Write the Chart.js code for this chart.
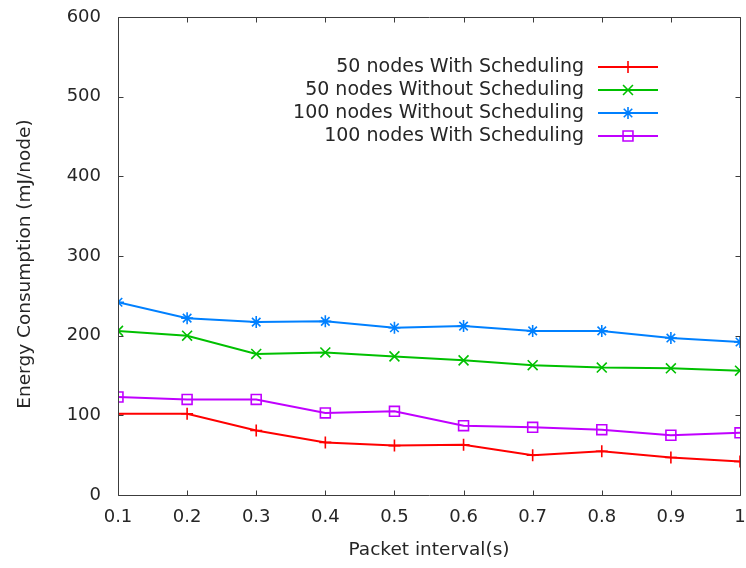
<!DOCTYPE html>
<html>
<head>
<meta charset="utf-8">
<script src="https://cdn.jsdelivr.net/npm/chart.js@4/dist/chart.umd.min.js"></script>
<style>
  html, body { margin: 0; padding: 0; background: #fff; }
  #wrap { width: 746px; height: 568px; }
</style>
</head>
<body>
<div id="wrap"><canvas id="energy" width="746" height="568"></canvas></div>
<script>
// packet interval (s)
const intervals = [0.1, 0.2, 0.3, 0.4, 0.5, 0.6, 0.7, 0.8, 0.9, 1.0];
const xTicks = [0.1, 0.2, 0.3, 0.4, 0.5, 0.6, 0.7, 0.8, 0.9, 1];
const yTicks = [0, 100, 200, 300, 400, 500, 600];

// energy per node (mJ)
const with50 = [102, 102, 81, 66, 62, 63, 50, 55, 47, 42];
const without50 = [206, 200, 177, 179, 174, 169, 163, 160, 159, 156];
const without100 = [242, 222, 217, 218, 210, 212, 206, 206, 197, 192];
const with100 = [123, 120, 120, 103, 105, 87, 85, 82, 75, 78];

const seriesNames = [
  "50 nodes With Scheduling",
  "50 nodes Without Scheduling",
  "100 nodes Without Scheduling",
  "100 nodes With Scheduling"
];
const yTitle = "Energy Consumption (mJ/node)";

const FONT = "DejaVu Sans";
const INK = "#262626";
const FRAME = "#3c3c3c";

function pts(ys) {
  return intervals.map((x, i) => ({ x, y: ys[i] }));
}

function series(label, ys, color, style, r) {
  return {
    label,
    data: pts(ys),
    borderColor: color,
    backgroundColor: color,
    borderWidth: 2,
    pointStyle: style,
    pointRadius: r,
    pointHoverRadius: r,
    pointBorderColor: color,
    pointBackgroundColor: "rgba(0,0,0,0)",
    pointBorderWidth: 1.6,
    tension: 0
  };
}

// gnuplot-style box with inward ticks on all four sides, y label and key
const frameAndKey = {
  id: "frameAndKey",
  afterDatasetsDraw(chart) {
    const { ctx, chartArea: a, scales } = chart;
    const L = Math.round(a.left) + 0.5, R = Math.round(a.right) + 0.5;
    const T = Math.round(a.top) + 0.5, B = Math.round(a.bottom) + 0.5;
    const tl = 5;
    ctx.save();
    ctx.strokeStyle = FRAME;
    ctx.lineWidth = 1;
    ctx.beginPath();
    ctx.rect(L, T, R - L, B - T);
    for (const v of yTicks) {
      const y = Math.round(scales.y.getPixelForValue(v)) + 0.5;
      ctx.moveTo(L, y); ctx.lineTo(L + tl, y);
      ctx.moveTo(R, y); ctx.lineTo(R - tl, y);
    }
    for (const v of xTicks) {
      const x = Math.round(scales.x.getPixelForValue(v)) + 0.5;
      ctx.moveTo(x, B); ctx.lineTo(x, B - tl);
      ctx.moveTo(x, T); ctx.lineTo(x, T + tl);
    }
    ctx.stroke();

    // rotated y label, sits a little below the box centre
    ctx.save();
    ctx.translate(25, 264);
    ctx.rotate(-Math.PI / 2);
    ctx.font = `18.5px "${FONT}"`;
    ctx.fillStyle = INK;
    ctx.textAlign = "center";
    ctx.textBaseline = "middle";
    ctx.fillText(yTitle, 0, 0);
    ctx.restore();

    // key
    const textRight = 584, x0 = 598, x1 = 658, top = 67, step = 23;
    ctx.font = `19px "${FONT}"`;
    ctx.textAlign = "right";
    ctx.textBaseline = "middle";
    chart.data.datasets.forEach((ds, i) => {
      const y = top + i * step;
      ctx.fillStyle = INK;
      ctx.fillText(ds.label, textRight, y);
      ctx.strokeStyle = ds.borderColor;
      ctx.lineWidth = 2;
      ctx.beginPath();
      ctx.moveTo(x0, y); ctx.lineTo(x1, y);
      ctx.stroke();
      ctx.lineWidth = ds.pointBorderWidth;
      ctx.fillStyle = ds.pointBackgroundColor;
      Chart.helpers.drawPoint(ctx, { pointStyle: ds.pointStyle, radius: ds.pointRadius, rotation: 0, borderWidth: ds.pointBorderWidth }, (x0 + x1) / 2, y);
    });
    ctx.restore();
  }
};

new Chart(document.getElementById("energy"), {
  type: "line",
  data: {
    datasets: [
      series(seriesNames[0], with50, "#ff0000", "cross", 6),
      series(seriesNames[1], without50, "#00c000", "crossRot", 7),
      series(seriesNames[2], without100, "#0080ff", "star", 6),
      series(seriesNames[3], with100, "#c000ff", "rect", 7)
    ]
  },
  options: {
    responsive: false,
    animation: false,
    events: [],
    // fixed plot box: no extra room for edge labels or markers
    layout: { autoPadding: false, padding: { top: 17, right: 6, left: 0, bottom: 0 } },
    plugins: { legend: { display: false }, tooltip: { enabled: false } },
    scales: {
      x: {
        type: "linear",
        min: 0.1,
        max: 1,
        afterBuildTicks: s => { s.ticks = xTicks.map(v => ({ value: v })); },
        afterFit: s => { s.height = 73; s.paddingLeft = 0; s.paddingRight = 0; },
        grid: { display: false, drawTicks: false },
        border: { display: false },
        ticks: {
          padding: 12,
          color: INK,
          font: { family: FONT, size: 18 },
          maxRotation: 0,
          callback: v => String(v)
        },
        title: {
          display: true,
          text: "Packet interval(s)",
          color: INK,
          font: { family: FONT, size: 18.5 },
          padding: { top: 0, bottom: 7 }
        }
      },
      y: {
        min: 0,
        max: 600,
        afterBuildTicks: s => { s.ticks = yTicks.map(v => ({ value: v })); },
        afterFit: s => { s.width = 118; s.paddingTop = 0; s.paddingBottom = 0; },
        grid: { display: false, drawTicks: false },
        border: { display: false },
        ticks: {
          padding: 17,
          color: INK,
          font: { family: FONT, size: 18 }
        }
      }
    }
  },
  plugins: [frameAndKey]
});
</script>
</body>
</html>
